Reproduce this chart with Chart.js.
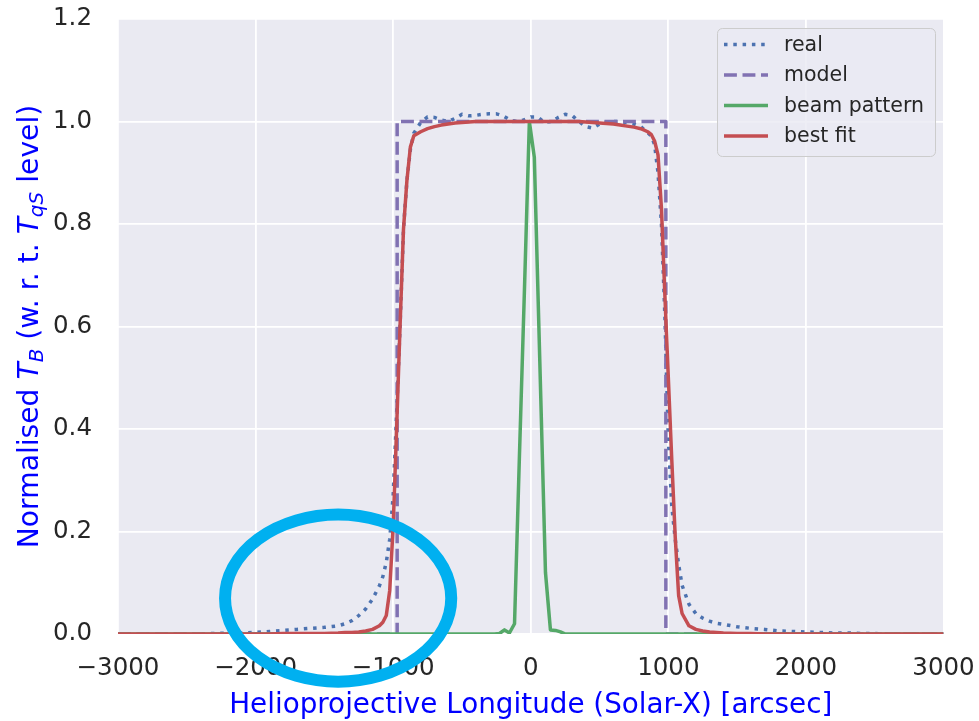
<!DOCTYPE html>
<html>
<head>
<meta charset="utf-8">
<script src="https://cdn.jsdelivr.net/npm/chart.js@4.4.1/dist/chart.umd.min.js"></script>
<style>
  html, body { margin: 0; padding: 0; background: #ffffff; }
  #wrap { width: 979px; height: 721px; }
</style>
</head>
<body>
<div id="wrap"><canvas id="profile" width="979" height="721"></canvas></div>
<script>
// Axis ticks
const xTicks = [-3000, -2000, -1000, 0, 1000, 2000, 3000];
const yTicks = [0.0, 0.2, 0.4, 0.6, 0.8, 1.0, 1.2];

// Solar-X positions (arcsec) shared by the observed profile and the fit
const sampleX = [
  -3000, -2900, -2800, -2700, -2600, -2500, -2400, -2300, -2200, -2100,
  -2000, -1900, -1800, -1700, -1600, -1500, -1400, -1350, -1300, -1250,
  -1200, -1150, -1100, -1075, -1050, -1025, -1000, -975, -950, -925,
  -900, -875, -850, -800, -750, -700, -650, -600, -550, -500,
  -450, -400, -350, -300, -250, -200, -150, -100, -50, 0,
  50, 100, 150, 200, 250, 300, 350, 400, 450, 500,
  550, 600, 650, 700, 750, 800, 850, 875, 900, 925,
  950, 975, 1000, 1025, 1050, 1075, 1100, 1150, 1200, 1250,
  1300, 1350, 1400, 1500, 1600, 1700, 1800, 1900, 2000, 2100,
  2200, 2300, 2400, 2500, 2600, 2700, 2800, 2900, 3000
];

// Observed normalised brightness temperature
const realTB = [
  0, 0, 0, 0, 0, 0, 0, 0.001, 0.002, 0.002,
  0.003, 0.005, 0.007, 0.009, 0.011, 0.013, 0.016, 0.020, 0.026, 0.036,
  0.049, 0.068, 0.094, 0.112, 0.140, 0.185, 0.270, 0.430, 0.600, 0.790,
  0.885, 0.945, 0.977, 0.998, 1.009, 1.008, 1.003, 1.000, 1.006, 1.014,
  1.011, 1.012, 1.014, 1.015, 1.015, 1.011, 1.003, 1.000, 1.003, 1.009,
  1.009, 0.998, 1.000, 1.008, 1.014, 1.012, 1.000, 0.990, 0.987, 0.995,
  0.999, 1.000, 1.000, 0.998, 0.995, 0.990, 0.978, 0.972, 0.955, 0.900,
  0.800, 0.620, 0.380, 0.250, 0.185, 0.135, 0.095, 0.058, 0.040, 0.031,
  0.025, 0.021, 0.019, 0.014, 0.011, 0.009, 0.006, 0.005, 0.004, 0.003,
  0.002, 0.002, 0.001, 0.001, 0, 0, 0, 0, 0
];

// Convolved best-fit profile
const fitTB = [
  0, 0, 0, 0, 0, 0, 0, 0, 0, 0,
  0, 0, 0.001, 0.001, 0.001, 0.001, 0.002, 0.003, 0.003, 0.004,
  0.006, 0.009, 0.016, 0.023, 0.036, 0.085, 0.210, 0.400, 0.600, 0.790,
  0.885, 0.950, 0.972, 0.980, 0.986, 0.990, 0.993, 0.995, 0.997, 0.998,
  0.999, 1.000, 1.000, 1.000, 1.000, 1.000, 1.000, 1.000, 1.000, 1.000,
  1.000, 1.000, 1.000, 1.000, 1.000, 1.000, 1.000, 0.999, 0.998, 0.997,
  0.996, 0.995, 0.993, 0.991, 0.989, 0.986, 0.980, 0.975, 0.962, 0.935,
  0.830, 0.660, 0.500, 0.340, 0.190, 0.075, 0.040, 0.016, 0.009, 0.006,
  0.004, 0.003, 0.002, 0.001, 0.001, 0, 0, 0, 0, 0,
  0, 0, 0, 0, 0, 0, 0, 0, 0
];

// Uniform-disc model
const modelX = [-3000, -971, -971, 982, 982, 3000];
const modelTB = [0, 0, 1, 1, 0, 0];

// Instrument beam cut
const beamX = [-3000, -2000, -1000, -500, -263, -227, -191, -155, -118, -82,
  -46, -10, 26, 62, 107, 143, 180, 216, 252, 500, 1000, 2000, 3000];
const beamTB = [0, 0, 0, 0, 0, 0.001, 0.008, 0.002, 0.020, 0.350,
  0.670, 1.000, 0.930, 0.570, 0.120, 0.008, 0.007, 0.004, 0, 0, 0, 0, 0];

const seriesNames = ['real', 'model', 'beam pattern', 'best fit'];
const seriesColors = ['#4C72B0', '#8172B2', '#55A868', '#C44E52'];

// Limb region outline (centre and semi-axes in data units)
const limbRing = { x: -1400, y: 0.070, rx: 822, ry: 0.163 };

const xTitle = 'Helioprojective Longitude (Solar-X) [arcsec]';
const yTitleParts = [
  { t: 'Normalised ' },
  { t: 'T', it: true },
  { t: 'B', it: true, sub: true },
  { t: ' (w. r. t. ' },
  { t: 'T', it: true },
  { t: 'qS', it: true, sub: true },
  { t: ' level)' }
];

const FONT = "'DejaVu Sans', 'Noto Sans', sans-serif";
const TEXT = '#262626';

// Plot frame in canvas pixels
const frame = { left: 118, right: 943.5, top: 19, bottom: 634 };

function toPoints(xs, ys) { return xs.map((x, i) => ({ x: x, y: ys[i] })); }
function fmtX(v) { return v < 0 ? '\u2212' + Math.abs(v) : String(v); }

const pinFrame = {
  id: 'pinFrame',
  afterLayout(chart) {
    const { x, y } = chart.scales;
    const a = chart.chartArea;
    a.left = frame.left; a.right = frame.right; a.top = frame.top; a.bottom = frame.bottom;
    a.width = frame.right - frame.left; a.height = frame.bottom - frame.top;
    x.left = frame.left; x.right = frame.right; x.width = a.width;
    x.top = frame.bottom; x.bottom = chart.height; x.height = chart.height - frame.bottom;
    y.left = 0; y.right = frame.left; y.width = frame.left;
    y.top = frame.top; y.bottom = frame.bottom; y.height = a.height;
    x.configure(); y.configure();
  }
};

const panelBg = {
  id: 'panelBg',
  beforeDraw(chart) {
    const { ctx, chartArea: a } = chart;
    ctx.save();
    ctx.fillStyle = '#EAEAF2';
    ctx.fillRect(a.left, a.top, a.right - a.left, a.bottom - a.top);
    ctx.restore();
  }
};

const axisTitles = {
  id: 'axisTitles',
  afterDraw(chart) {
    const { ctx, chartArea: a } = chart;
    ctx.save();
    ctx.fillStyle = '#0000FF';
    ctx.textBaseline = 'alphabetic';
    ctx.textAlign = 'center';
    ctx.font = `27.8px ${FONT}`;
    ctx.fillText(xTitle, (a.left + a.right) / 2, 713);

    // rotated y title with italic symbols and subscripts
    const size = 28.2, subSize = 20;
    const fontOf = p => `${p.it ? 'italic ' : ''}${p.sub ? subSize : size}px ${FONT}`;
    let total = 0;
    yTitleParts.forEach(p => { ctx.font = fontOf(p); p.w = ctx.measureText(p.t).width; total += p.w; });
    ctx.translate(38, (a.top + a.bottom) / 2);
    ctx.rotate(-Math.PI / 2);
    ctx.textAlign = 'left';
    let u = -total / 2;
    yTitleParts.forEach(p => {
      ctx.font = fontOf(p);
      ctx.fillText(p.t, u, p.sub ? 5 : 0);
      u += p.w;
    });
    ctx.restore();
  }
};

const legendBox = {
  id: 'legendBox',
  afterDatasetsDraw(chart) {
    const { ctx } = chart;
    const x0 = 717, y0 = 28, w = 218, h = 128, r = 5;
    ctx.save();
    ctx.beginPath();
    ctx.roundRect(x0 + 0.5, y0 + 0.5, w, h, r);
    ctx.fillStyle = 'rgba(234,234,242,0.8)';
    ctx.fill();
    ctx.strokeStyle = '#CCCCCC';
    ctx.lineWidth = 1;
    ctx.stroke();
    ctx.font = `20.5px ${FONT}`;
    ctx.fillStyle = TEXT;
    ctx.textBaseline = 'middle';
    chart.data.datasets.forEach((ds, i) => {
      const y = 44.5 + i * 30.5;
      ctx.beginPath();
      ctx.setLineDash(ds.borderDash || []);
      ctx.lineDashOffset = 0;
      ctx.lineWidth = ds.borderWidth;
      ctx.strokeStyle = ds.borderColor;
      ctx.lineCap = 'butt';
      ctx.moveTo(724, y);
      ctx.lineTo(768, y);
      ctx.stroke();
      ctx.setLineDash([]);
      ctx.fillText(ds.label, 784, y + 1);
    });
    ctx.restore();
  }
};

const limbOutline = {
  id: 'limbOutline',
  afterDraw(chart) {
    const { ctx, scales: { x, y } } = chart;
    const cx = x.getPixelForValue(limbRing.x);
    const cy = y.getPixelForValue(limbRing.y);
    const rx = Math.abs(x.getPixelForValue(limbRing.x + limbRing.rx) - cx);
    const ry = Math.abs(y.getPixelForValue(limbRing.y + limbRing.ry) - cy);
    ctx.save();
    ctx.beginPath();
    ctx.ellipse(cx, cy, rx, ry, 0, 0, Math.PI * 2);
    ctx.strokeStyle = '#00B0F0';
    ctx.lineWidth = 12;
    ctx.stroke();
    ctx.restore();
  }
};

const lineW = 3.5;
new Chart(document.getElementById('profile'), {
  type: 'line',
  data: {
    datasets: [
      { label: seriesNames[0], data: toPoints(sampleX, realTB), borderColor: seriesColors[0],
        borderDash: [3.5, 5.8], borderWidth: lineW, order: 4 },
      { label: seriesNames[1], data: toPoints(modelX, modelTB), borderColor: seriesColors[1],
        borderDash: [12.9, 5.6], borderWidth: lineW, order: 3 },
      { label: seriesNames[2], data: toPoints(beamX, beamTB), borderColor: seriesColors[2],
        borderWidth: lineW, order: 2 },
      { label: seriesNames[3], data: toPoints(sampleX, fitTB), borderColor: seriesColors[3],
        borderWidth: lineW, order: 1 }
    ]
  },
  options: {
    responsive: false,
    animation: false,
    devicePixelRatio: 1,
    layout: { padding: { top: 19, right: 35.5, left: 0, bottom: 0 } },
    elements: {
      point: { radius: 0, hoverRadius: 0 },
      line: { tension: 0, fill: false, borderCapStyle: 'butt', borderJoinStyle: 'round' }
    },
    plugins: { legend: { display: false }, tooltip: { enabled: false } },
    scales: {
      x: {
        type: 'linear', min: -3000, max: 3000,
        afterBuildTicks: s => { s.ticks = xTicks.map(v => ({ value: v })); },
        grid: { color: '#FFFFFF', lineWidth: 1.8, drawTicks: false },
        border: { display: false },
        ticks: { callback: v => fmtX(v), color: TEXT, font: { family: FONT, size: 24.5 },
          padding: 20, maxRotation: 0, autoSkip: false }
      },
      y: {
        type: 'linear', min: 0, max: 1.2,
        afterBuildTicks: s => { s.ticks = yTicks.map(v => ({ value: v })); },
        grid: { color: '#FFFFFF', lineWidth: 1.8, drawTicks: false },
        border: { display: false },
        ticks: { callback: v => v.toFixed(1), color: TEXT, font: { family: FONT, size: 24.5 },
          padding: 26 }
      }
    }
  },
  plugins: [pinFrame, panelBg, axisTitles, legendBox, limbOutline]
});
</script>
</body>
</html>
